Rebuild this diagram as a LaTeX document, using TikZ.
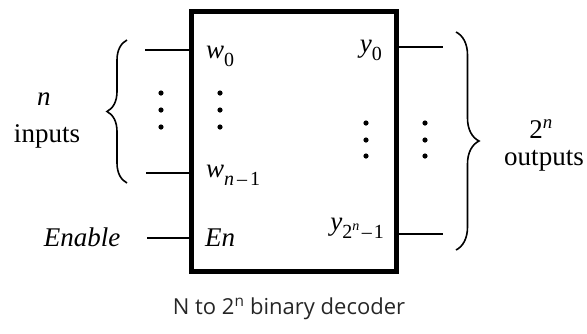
\documentclass[tikz,border=0pt]{standalone}
\usepackage{fontspec}
\setmainfont{Liberation Serif}
\newfontfamily\capfont{Open Sans}
\usetikzlibrary{decorations.pathreplacing}
\newcommand\lowr[1]{\raisebox{-8pt}{\fontsize{20}{20}\selectfont #1}}
\begin{document}
\begin{tikzpicture}[x=1pt,y=-1pt,
  wire/.style={line width=1.6pt},
  brc/.style={decorate, decoration={brace, amplitude=#1}, line width=1.6pt},
  lbl/.style={font=\fontsize{27}{30}\selectfont, inner sep=0pt},
  dotc/.style={fill=black}]
\useasboundingbox (0,0) rectangle (587,333);
% box
\node[draw, line width=5pt, minimum width=205pt, minimum height=260pt,
      outer sep=0pt, inner sep=0pt] (box) at (293.5,141) {};
% wire ends
\coordinate (i0) at (145,50);
\coordinate (i1) at (146,173);
\coordinate (ien) at (147,238);
\coordinate (o0) at (443,47);
\coordinate (o1) at (443,234);
\draw[wire] (i0) -- (i0 -| box.west);
\draw[wire] (i1) -- (i1 -| box.west);
\draw[wire] (ien) -- (ien -| box.west);
\draw[wire] (o0 -| box.east) -- (o0);
\draw[wire] (o1 -| box.east) -- (o1);
% braces
\coordinate (lb1) at (127,183);
\coordinate (lb2) at (127,40);
\draw[brc=20] (lb1) -- (lb2);
\coordinate (rb1) at (456,32);
\coordinate (rb2) at (456,250);
\draw[brc=23] (rb1) -- (rb2);
% dots
\foreach \yy in {93,110,127} {
  \fill[dotc] (161,\yy) circle (2.6);
  \fill[dotc] (220,\yy) circle (2.6);
}
\foreach \yy in {123,140,156} {
  \fill[dotc] (366,\yy) circle (2.6);
  \fill[dotc] (425,\yy) circle (2.6);
}
% outside labels
\node[lbl, anchor=base] (nlab) at (44,105) {\textit{n}};
\node[lbl, anchor=base] (inlab) at (47,142) {inputs};
\node[lbl, anchor=base] (enlab) at (82,246) {\textit{Enable}};
\node[lbl, anchor=base] (twon) at (541,138) {2\textsuperscript{\textit{n}}};
\node[lbl, anchor=base] (outlab) at (544,165) {outputs};
% inside labels
\node[lbl, anchor=base west] (w0) at (206,58) {\textit{w}\lowr{0}};
\node[lbl, anchor=base west] (wn) at (206,177) {\textit{w}\lowr{\textit{n}\hspace{3pt}–\hspace{3pt}1}};
\node[lbl, anchor=base west] (en) at (205,246) {\textit{En}};
\node[lbl, anchor=base east] (y0) at (382,52) {\textit{y}\lowr{0}};
\node[lbl, anchor=base east] (yn) at (384,230) {\textit{y}\lowr{2\textsuperscript{\textit{n}}\hspace{2pt}–\hspace{2pt}1}};
% caption
\node[font=\capfont\fontsize{22}{26}\selectfont, text=black!85, anchor=base, inner sep=0pt] (cap) at (289,314) {N to 2\textsuperscript{n} binary decoder};
\end{tikzpicture}
\end{document}
